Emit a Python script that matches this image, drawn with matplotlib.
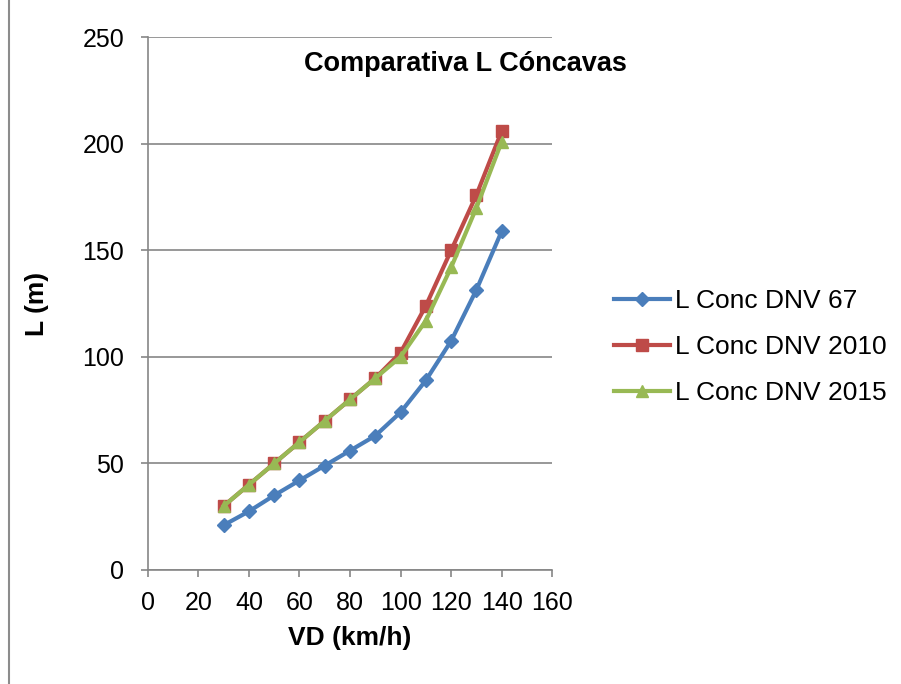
import numpy as np
import matplotlib
matplotlib.use('Agg')
import matplotlib.pyplot as plt
from matplotlib.lines import Line2D

plt.rcParams['font.family'] = ['Liberation Sans', 'DejaVu Sans']

# data
vd = [30, 40, 50, 60, 70, 80, 90, 100, 110, 120, 130, 140]
l_dnv67 = [21, 27.5, 35, 42, 49, 56, 63, 74, 89, 107.5, 131.5, 159]
l_dnv2010 = [30, 40, 50, 60, 70, 80, 90, 102, 124, 150, 176, 206]
l_dnv2015 = [30, 40, 50, 60, 70, 80, 90, 100, 117, 142, 170, 201]

series_names = ['L Conc DNV 67', 'L Conc DNV 2010', 'L Conc DNV 2015']
series_colors = ['#4a7ebb', '#be4b48', '#98b954']
series_markers = ['D', 's', '^']

fig = plt.figure(figsize=(9.01, 6.84), dpi=100)
# left edge of the chart frame
fig.lines.append(Line2D([0.0095, 0.0095], [0, 1], transform=fig.transFigure,
                        color='#8c8c8c', linewidth=1.5))
ax = fig.add_axes([0.164, 0.1667, 0.449, 0.779])

marker_sizes = [7, 8, 9]
for vals, name, c, m, ms in zip([l_dnv67, l_dnv2010, l_dnv2015], series_names,
                                series_colors, series_markers, marker_sizes):
    ax.plot(vd, vals, color=c, marker=m, markersize=ms, linewidth=3, label=name,
            markeredgecolor=c, zorder=3)

ax.set_xlim(0, 160)
ax.set_ylim(0, 250)
ax.set_xticks(np.arange(0, 161, 20))
ax.set_yticks(np.arange(0, 251, 50))
ax.yaxis.grid(True, color='#868686', linewidth=1.2)
ax.set_axisbelow(True)
for s in ['top', 'right']:
    ax.spines[s].set_visible(False)
for s in ['left', 'bottom']:
    ax.spines[s].set_color('#868686')
    ax.spines[s].set_linewidth(1.2)
ax.tick_params(axis='y', direction='out', length=5, color='#868686',
               labelsize=18, width=1.2, pad=12)
ax.tick_params(axis='x', direction='out', length=5, color='#868686',
               labelsize=18, width=1.2, pad=10)

ax.set_xlabel('VD (km/h)', fontsize=19, fontweight='bold', labelpad=8)
ax.set_ylabel('L (m)', fontsize=19, fontweight='bold', labelpad=24)
ax.text(0.785, 0.95, 'Comparativa L Cóncavas', transform=ax.transAxes,
        fontsize=19.5, fontweight='bold', ha='center', va='center')

ax.legend(loc='center left', bbox_to_anchor=(1.153, 0.418), frameon=False,
          fontsize=19, handlelength=2.1, handletextpad=0.2, labelspacing=0.83,
          borderaxespad=0, borderpad=0)

plt.savefig('out.png', dpi=100)
